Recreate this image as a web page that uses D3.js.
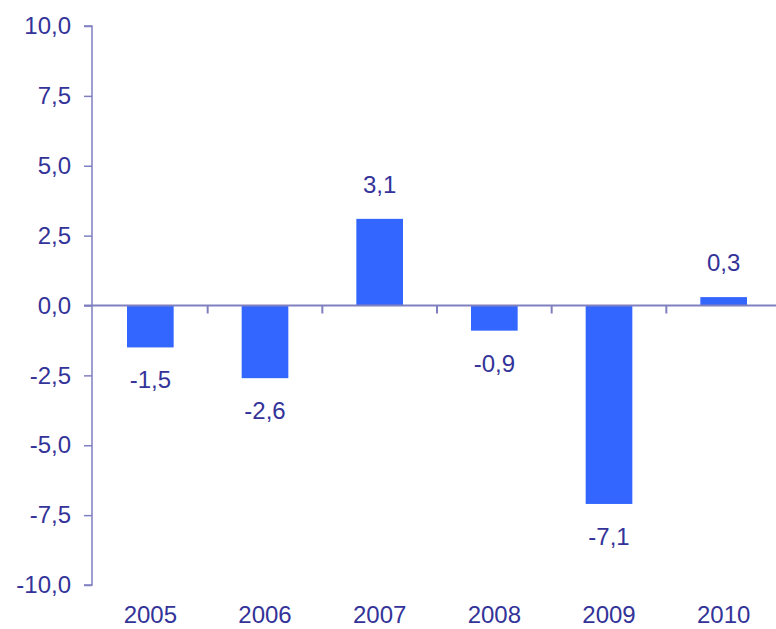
<!DOCTYPE html>
<html>
<head>
<meta charset="utf-8">
<script src="https://cdn.jsdelivr.net/npm/d3@7"></script>
<style>
  html, body { margin: 0; padding: 0; background: #fff; }
  svg { display: block; }
  text { font-family: "Liberation Sans", Arial, sans-serif; }
</style>
</head>
<body>
<svg id="chart" width="776" height="629"></svg>
<script>
const years = ["2005", "2006", "2007", "2008", "2009", "2010"];
const values = [-1.5, -2.6, 3.1, -0.9, -7.1, 0.3];
const yTicks = [-10, -7.5, -5, -2.5, 0, 2.5, 5, 7.5, 10];

const textColor = "#333399";
const lineColor = "#8080c0";
const barColor = "#3366ff";
const fontSize = 24;

const svg = d3.select("#chart");
const fmt = v => d3.format(".1f")(v).replace(".", ",").replace("−", "-");

const x = d3.scaleBand().domain(years).range([93, 781]).padding(0);
const y = d3.scaleLinear().domain([-10, 10]).range([585, 26]);
const barW = x.bandwidth() * 0.407;

// bars
svg.append("g").selectAll("rect").data(values).join("rect")
  .attr("x", (d, i) => x(years[i]) + (x.bandwidth() - barW) / 2)
  .attr("y", d => y(Math.max(0, d)))
  .attr("width", barW)
  .attr("height", d => Math.abs(y(d) - y(0)))
  .attr("fill", barColor);

// y axis
const yAxis = svg.append("g").attr("transform", "translate(92,0)")
  .call(d3.axisLeft(y).tickValues(yTicks).tickFormat(fmt).tickSize(8).tickPadding(13));
yAxis.select(".domain").attr("stroke", lineColor).attr("stroke-width", 1.5).attr("d", `M-8,${y(10)}H0V${y(-10)}H-8`);
yAxis.selectAll(".tick line").attr("stroke", lineColor).attr("stroke-width", 1.5);
yAxis.selectAll(".tick text").attr("fill", textColor).style("font-size", fontSize + "px")
  .style("font-family", '"Liberation Sans", Arial, sans-serif');

// category axis at zero
const xAxisG = svg.append("g");
xAxisG.append("line")
  .attr("x1", 84).attr("x2", 776).attr("y1", y(0)).attr("y2", y(0))
  .attr("stroke", lineColor).attr("stroke-width", 2);
xAxisG.selectAll("line.tk").data(years.slice(1)).join("line")
  .attr("class", "tk")
  .attr("x1", d => x(d)).attr("x2", d => x(d))
  .attr("y1", y(0)).attr("y2", y(0) + 8)
  .attr("stroke", lineColor).attr("stroke-width", 2);

// year labels
svg.append("g").selectAll("text").data(years).join("text")
  .attr("x", d => x(d) + x.bandwidth() / 2)
  .attr("y", 623)
  .attr("text-anchor", "middle")
  .attr("fill", textColor)
  .style("font-size", fontSize + "px")
  .text(d => d);

// value labels
svg.append("g").selectAll("text").data(values).join("text")
  .attr("x", (d, i) => x(years[i]) + x.bandwidth() / 2)
  .attr("y", d => d >= 0 ? y(d) - 26 : y(d) + 41)
  .attr("text-anchor", "middle")
  .attr("fill", textColor)
  .style("font-size", fontSize + "px")
  .text(d => fmt(d));
</script>
</body>
</html>
